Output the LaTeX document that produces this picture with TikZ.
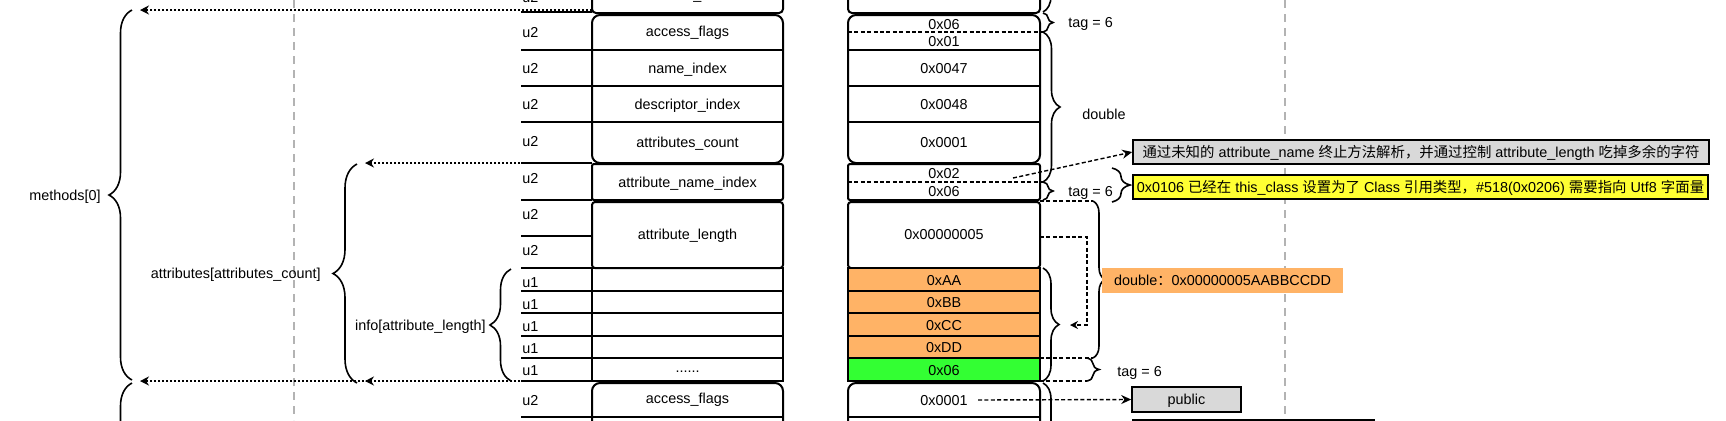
\documentclass[tikz,border=0pt]{standalone}
\usepackage{fontspec}
\setmainfont{Liberation Sans}
\newfontfamily\cjk{Noto Sans CJK SC}
\usetikzlibrary{arrows.meta,decorations.pathreplacing,positioning}
\definecolor{orangecell}{HTML}{FFB366}
\definecolor{greencell}{HTML}{33FF33}
\definecolor{yellownote}{HTML}{FFFF33}
\definecolor{greynote}{HTML}{D9D9D9}
\definecolor{guidegrey}{HTML}{B3B3B3}

\begin{document}
\begin{tikzpicture}[x=0.5pt, y=-0.5pt,
    every node/.style={font=\fontsize{7.2}{8.6}\selectfont, inner sep=0pt, text height=5.2pt, text depth=0pt},
    cell/.style={line width=1pt},
    guide/.style={guidegrey, line width=0.6pt, dash pattern=on 4pt off 3pt},
    dotarrow/.style={line width=1.2pt, dash pattern=on 1.1pt off 0.9pt, -{Stealth[length=4.5pt,width=4.5pt]}},
    dashln/.style={line width=0.7pt, dash pattern=on 2pt off 1.2pt},
    brc/.style={decorate, decoration={brace, amplitude=#1}, line width=0.8pt},
    note/.style={draw, line width=0.8pt, minimum height=12pt},
  ]
  \useasboundingbox (0,0) rectangle (1726,420);

  % 参考线
  \draw[guide] (294,0) -- (294,420);
  \draw[guide] (1285,0) -- (1285,420);

  % 左表：字段
  \draw[cell, rounded corners=2pt] (592,-40) -- (592,13) -- (783,13) -- (783,-40);
  \node (fprev) at (687.5,-6) {methods\_count};
  \draw[cell, rounded corners=4pt] (592,15) rectangle (783,163);
  \foreach \y in {50,86,122} \draw[cell] (592,\y) -- (783,\y);
  \node (facc) at (687.5,31) {access\_flags};
  \node (fname) at (687.5,68) {name\_index};
  \node (fdesc) at (687.5,104) {descriptor\_index};
  \node (fcnt) at (687.5,142) {attributes\_count};
  \draw[cell, rounded corners=1pt] (592,164) rectangle (783,200);
  \node (fattn) at (687.5,182) {attribute\_name\_index};
  \draw[cell, rounded corners=1.5pt] (592,202) rectangle (783,268);
  \node (fattl) at (687.5,234) {attribute\_length};
  \draw[cell] (592,268) rectangle (783,381);
  \foreach \y in {291,313,336,358} \draw[cell] (592,\y) -- (783,\y);
  \node (finfo) at (687.5,367) {......};
  \draw[cell, rounded corners=4pt] (592,470) -- (592,383) -- (783,383) -- (783,470);
  \draw[cell] (592,417) -- (783,417);
  \node (facc2) at (687.5,398) {access\_flags};

  % 类型列
  \foreach \y in {12,50,86,122,163,200,236,268,291,313,336,358,381,417}
    \draw[cell] (521,\y) -- (592,\y);
  \foreach \y/\t [count=\i] in {-3/u2,32/u2,68/u2,104/u2,141/u2,178/u2,214/u2,250/u2,
      282/u1,304/u1,326/u1,348/u1,370/u1,400/u2}
    \node[anchor=west] (ty\i) at (522,\y) {\t};

  % 右表：字节
  \draw[cell, rounded corners=2pt] (848,-40) -- (848,13) -- (1040,13) -- (1040,-40);
  \draw[cell, rounded corners=4pt] (848,15) rectangle (1040,163);
  \foreach \y in {50,86,122} \draw[cell] (848,\y) -- (1040,\y);
  \draw[dashln] (848,32) -- (1043,32);
  \node (b06a) at (944,24) {0x06};
  \node (b01) at (944,41) {0x01};
  \node (b47) at (944,68) {0x0047};
  \node (b48) at (944,104) {0x0048};
  \node (bcnt) at (944,142) {0x0001};
  \draw[cell, rounded corners=1pt] (848,164) rectangle (1040,200);
  \draw[dashln] (848,182) -- (1043,182);
  \node (b02) at (944,173) {0x02};
  \node (b06b) at (944,191) {0x06};
  \draw[cell, rounded corners=1.5pt] (848,202) rectangle (1040,268);
  \node (blen) at (944,234) {0x00000005};
  \foreach \ya/\yb in {268/291,291/313,313/336,336/358}
    \draw[cell, fill=orangecell] (848,\ya) rectangle (1040,\yb);
  \draw[cell, fill=greencell] (848,358) rectangle (1040,381);
  \node (baa) at (944,280) {0xAA};
  \node (bbb) at (944,302) {0xBB};
  \node (bcc) at (944,325) {0xCC};
  \node (bdd) at (944,347) {0xDD};
  \node (b06c) at (944,370) {0x06};
  \draw[cell, rounded corners=4pt] (848,470) -- (848,383) -- (1040,383) -- (1040,470);
  \draw[cell] (848,417) -- (1040,417);
  \node (bacc) at (944,400) {0x0001};

  % 左侧括号
  \draw[brc=11.5pt] (132,380) -- (132,10);
  \draw[brc=11.5pt] (132,760) -- (132,383);
  \draw[brc=12pt] (357,383) -- (357,164);
  \draw[brc=10.5pt] (511,381) -- (511,269);
  \node[anchor=east] (lmeth) at (101,195) {methods[0]};
  \node[anchor=east] (lattr) at (321,273) {attributes[attributes\_count]};
  \node[anchor=east] (linfo) at (486,325) {info[attribute\_length]};

  % 虚线箭头（左）
  \coordinate (mtop) at (140,10);
  \coordinate (atop) at (365,163);
  \coordinate (abot) at (365,381);
  \coordinate (mbot) at (140,381);
  \draw[dotarrow] (592,10) -- (mtop);
  \draw[dotarrow] (592,163) -- (atop);
  \draw[dotarrow] (592,381) -- (abot);
  \draw[dotarrow] (592,381) -- (mbot);

  % 右侧括号
  \draw[brc=8pt] (1043,-60) -- (1043,12);
  \draw[brc=5pt] (1043,13) -- (1043,32);
  \draw[brc=8.5pt] (1043,32) -- (1043,182);
  \draw[brc=5pt] (1043,182) -- (1043,200);
  \draw[brc=8pt] (1043,268) -- (1043,381);
  \draw[brc=8pt] (1043,383) -- (1043,560);
  \draw[brc=9pt] (1112,168) -- (1112,202);
  \draw[dashln] (1040,201) -- (1093,201);
  \draw[dashln] (1040,358) -- (1093,358);
  \draw[dashln] (1040,381) -- (1087,381);
  \draw[brc=6pt] (1093,201) -- (1093,358);
  \draw[brc=6pt] (1087,358) -- (1087,381);
  \node[anchor=west] (tag1) at (1068,22) {tag = 6};
  \node[anchor=west] (dbl1) at (1082,114) {double};
  \node[anchor=west] (tag2) at (1068,191) {tag = 6};
  \node[anchor=west] (tag3) at (1117,371) {tag = 6};

  % 说明
  \node[note, fill=greynote, minimum width=288pt] (gnote) at (1421,152)
    {{\cjk 通过未知的} attribute\_name {\cjk 终止方法解析，并通过控制} attribute\_length {\cjk 吃掉多余的字符}};
  \node[note, fill=yellownote, minimum width=287.5pt] (ynote) at (1420.5,187)
    {0x0106 {\cjk 已经在} this\_class {\cjk 设置为了} Class {\cjk 引用类型，}\#518(0x0206) {\cjk 需要指向} Utf8 {\cjk 字面量}};
  \node[fill=orangecell, minimum width=120.5pt, minimum height=12.5pt] (dnote) at (1222.5,280)
    {double{\cjk ：}0x00000005AABBCCDD};
  \node[note, fill=greynote, minimum width=54.5pt, minimum height=12.5pt] (pub) at (1186.5,399.5) {public};
  \node[note, fill=greynote, minimum width=120.5pt, minimum height=12.5pt, anchor=north west] (nextn) at (1132,419) {};

  % 虚线箭头（右）
  \coordinate (lenr) at (1040,237);
  \coordinate (infotip) at (1070,325);
  \draw[dashln, -{Stealth[length=4pt,width=4pt]}] (lenr) -- ++(47,0) |- (infotip);
  \draw[dashln, -{Stealth[length=5pt,width=4.5pt]}] (1013,178) -- (gnote.west);
  \draw[dashln, -{Stealth[length=5pt,width=4.5pt]}] ([xshift=5pt]bacc.east) -- (pub.west);
\end{tikzpicture}
\end{document}
